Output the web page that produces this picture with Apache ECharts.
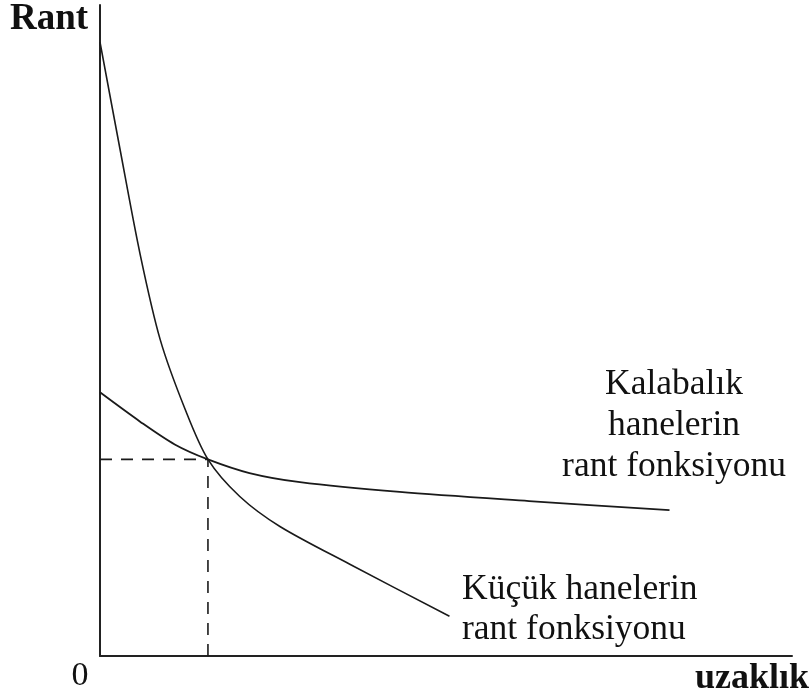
<!DOCTYPE html>
<html>
<head>
<meta charset="utf-8">
<script src="https://cdn.jsdelivr.net/npm/echarts@6/dist/echarts.min.js"></script>
<style>
  html, body { margin: 0; padding: 0; background: #fff; }
  #chart { width: 812px; height: 699px; }
</style>
</head>
<body>
<div id="chart"></div>
<script>
// egriler, okunan degerler (eksen 0-100 birim)
var kucukX = [0, 2.9, 5.8, 8.7, 12.3, 15.6, 20.2, 26.0, 36.1, 50.5];
var kucukY = [94.3, 77.8, 61.7, 48.6, 37.9, 30.2, 24.5, 19.9, 14.1, 6.1];

var kalabalikX = [0, 5.8, 10.8, 15.6, 21.6, 28.9, 43.3, 62.0, 82.3];
var kalabalikY = [40.5, 36.0, 32.5, 30.2, 28.1, 26.7, 25.2, 23.8, 22.4];

// kesisim noktasi
var kesisim = [15.6, 30.2];

function pairs(xs, ys) {
  return xs.map(function (x, i) { return [x, ys[i]]; });
}

var serif = '"Liberation Serif", "DejaVu Serif", serif';
var lineColor = "#1a1a1a";

var myChart = echarts.init(document.getElementById("chart"));
var option = {
  animation: false,
  grid: { left: 100, right: 20, top: 5, bottom: 43 },
  xAxis: {
    type: "value",
    min: 0,
    max: 100,
    axisLine: { show: true, lineStyle: { color: "#222", width: 2 } },
    axisTick: { show: false },
    axisLabel: { show: false },
    splitLine: { show: false },
  },
  yAxis: {
    type: "value",
    min: 0,
    max: 100,
    axisLine: { show: true, lineStyle: { color: "#222", width: 2 } },
    axisTick: { show: false },
    axisLabel: { show: false },
    splitLine: { show: false },
  },
  series: [
    {
      name: "Küçük hanelerin rant fonksiyonu",
      type: "line",
      smooth: 0.3,
      symbol: "none",
      data: pairs(kucukX, kucukY),
      lineStyle: { color: lineColor, width: 1.6 },
    },
    {
      name: "Kalabalık hanelerin rant fonksiyonu",
      type: "line",
      smooth: 0.3,
      symbol: "none",
      data: pairs(kalabalikX, kalabalikY),
      lineStyle: { color: lineColor, width: 1.8 },
    },
    {
      // kesikli yatay cizgi
      type: "line",
      symbol: "none",
      data: [[0, kesisim[1]], kesisim],
      lineStyle: { color: lineColor, width: 1.6, type: [12, 9] },
    },
    {
      // kesikli dikey cizgi
      type: "line",
      symbol: "none",
      data: [[kesisim[0], 0], kesisim],
      lineStyle: { color: lineColor, width: 1.6, type: [12, 9] },
    },
  ],
  graphic: [
    {
      type: "text",
      left: 10,
      top: 1,
      style: { text: "Rant", font: "bold 37px " + serif, fill: "#111" },
    },
    {
      type: "text",
      x: 80,
      y: 676,
      style: {
        text: "0",
        font: "34px " + serif,
        fill: "#111",
        align: "center",
        verticalAlign: "middle",
      },
    },
    {
      type: "text",
      x: 809,
      y: 679,
      style: {
        text: "uzaklık",
        font: "bold 36px " + serif,
        fill: "#111",
        align: "right",
        verticalAlign: "middle",
      },
    },
    {
      type: "text",
      x: 674,
      y: 364,
      style: {
        text: "Kalabalık\nhanelerin\nrant fonksiyonu",
        font: "35.5px " + serif,
        lineHeight: 41,
        fill: "#111",
        align: "center",
        verticalAlign: "top",
      },
    },
    {
      type: "text",
      x: 462,
      y: 570,
      style: {
        text: "Küçük hanelerin\nrant fonksiyonu",
        font: "35.5px " + serif,
        lineHeight: 40,
        fill: "#111",
        align: "left",
        verticalAlign: "top",
      },
    },
  ],
};
myChart.setOption(option);
window.onresize = myChart.resize;
</script>
</body>
</html>
